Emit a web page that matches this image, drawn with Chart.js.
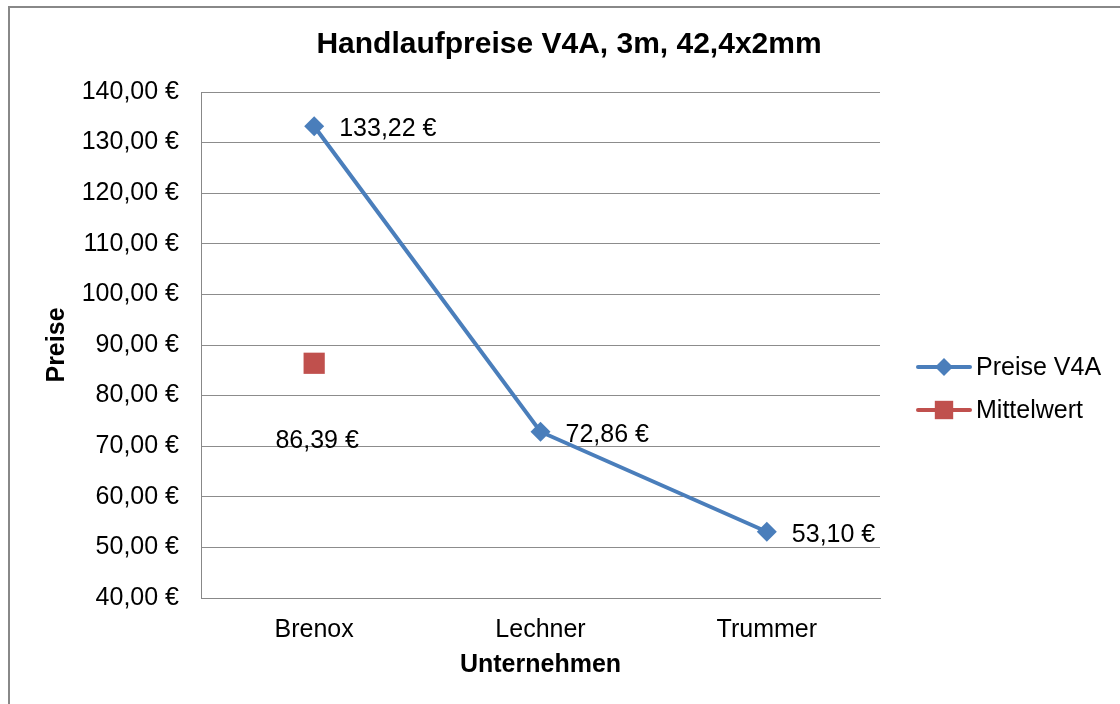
<!DOCTYPE html>
<html>
<head>
<meta charset="utf-8">
<script src="https://cdn.jsdelivr.net/npm/chart.js@4"></script>
<style>
  html, body { margin: 0; padding: 0; background: #fff; }
  canvas { display: block; }
</style>
</head>
<body>
<canvas id="chart" width="1120" height="704"></canvas>
<script>
  "use strict";

  var categories = ["Brenox", "Lechner", "Trummer"];
  var preiseV4A = [133.22, 72.86, 53.10];
  var mittelwert = [86.39, null, null];
  var yTicks = { min: 40, max: 140, step: 10 };

  var FONT = "'Liberation Sans', Arial, sans-serif";
  var BLUE = "#4a7ebb";
  var RED = "#c0504d";
  var SIZE = 25;

  function euro(v) {
    return Number(v).toFixed(2).replace(".", ",") + " \u20ac";
  }

  // title, axis titles, frame, value labels and legend drawn by hand (Excel look)
  var decor = {
    id: "decor",
    beforeDraw: function (chart) {
      var ctx = chart.ctx;
      ctx.save();
      ctx.fillStyle = "#fff";
      ctx.fillRect(0, 0, chart.width, chart.height);
      ctx.strokeStyle = "#888";
      ctx.lineWidth = 2;
      ctx.beginPath();
      ctx.moveTo(9, chart.height);
      ctx.lineTo(9, 7);
      ctx.lineTo(chart.width, 7);
      ctx.stroke();
      ctx.restore();
    },
    afterDraw: function (chart) {
      var ctx = chart.ctx;
      var area = chart.chartArea;
      ctx.save();
      ctx.fillStyle = "#000";
      ctx.textAlign = "center";
      ctx.textBaseline = "middle";
      ctx.font = "bold 30px " + FONT;
      ctx.fillText("Handlaufpreise V4A, 3m, 42,4x2mm", 569, 45);

      ctx.font = "bold " + SIZE + "px " + FONT;
      ctx.fillText("Unternehmen", (area.left + area.right) / 2, 665);
      ctx.save();
      ctx.translate(57, 345);
      ctx.rotate(-Math.PI / 2);
      ctx.fillText("Preise", 0, 0);
      ctx.restore();

      // value labels
      ctx.font = SIZE + "px " + FONT;
      var meta0 = chart.getDatasetMeta(0);
      ctx.textAlign = "left";
      meta0.data.forEach(function (pt, i) {
        ctx.fillText(euro(preiseV4A[i]), pt.x + 25, pt.y + 3);
      });
      var meta1 = chart.getDatasetMeta(1);
      ctx.textAlign = "center";
      meta1.data.forEach(function (pt, i) {
        if (mittelwert[i] == null) return;
        ctx.fillText(euro(mittelwert[i]), pt.x + 3, pt.y + 78);
      });

      // legend
      var rows = [
        { y: 367, color: BLUE, style: "rectRot", r: 9 },
        { y: 410, color: RED, style: "rect", r: 13 }
      ];
      rows.forEach(function (row, i) {
        ctx.strokeStyle = row.color;
        ctx.lineWidth = 4;
        ctx.lineCap = "round";
        ctx.beginPath();
        ctx.moveTo(918, row.y);
        ctx.lineTo(970, row.y);
        ctx.stroke();
        ctx.fillStyle = row.color;
        Chart.helpers.drawPoint(ctx, { pointStyle: row.style, radius: row.r, borderWidth: 0 }, 944, row.y);
        ctx.fillStyle = "#000";
        ctx.textAlign = "left";
        ctx.fillText(chart.data.datasets[i].label, 976, row.y + 1);
      });
      ctx.restore();
    }
  };

  new Chart(document.getElementById("chart"), {
    type: "line",
    data: {
      labels: categories,
      datasets: [
        {
          label: "Preise V4A",
          data: preiseV4A,
          borderColor: BLUE,
          backgroundColor: BLUE,
          borderWidth: 4,
          pointStyle: "rectRot",
          pointRadius: 10,
          pointBorderWidth: 0,
          tension: 0
        },
        {
          label: "Mittelwert",
          data: mittelwert,
          showLine: false,
          borderColor: RED,
          backgroundColor: RED,
          pointStyle: "rect",
          pointRadius: 15,
          pointBorderWidth: 0
        }
      ]
    },
    options: {
      responsive: false,
      animation: false,
      layout: { padding: { top: 92, right: 240, left: 0, bottom: 0 } },
      plugins: { legend: { display: false }, tooltip: { enabled: false } },
      scales: {
        x: {
          offset: true,
          grid: { display: false, drawTicks: false },
          border: { color: "#888", width: 1 },
          ticks: { color: "#000", font: { family: FONT, size: SIZE }, padding: 17 },
          afterFit: function (s) { s.height = 106; }
        },
        y: {
          min: yTicks.min,
          max: yTicks.max,
          grid: { color: "#8c8c8c", drawTicks: false },
          border: { color: "#888", width: 1 },
          ticks: {
            stepSize: yTicks.step,
            color: "#000",
            font: { family: FONT, size: SIZE },
            padding: 22,
            callback: function (v) { return euro(v); }
          },
          afterFit: function (s) { s.width = 201; }
        }
      }
    },
    plugins: [decor]
  });
</script>
</body>
</html>
